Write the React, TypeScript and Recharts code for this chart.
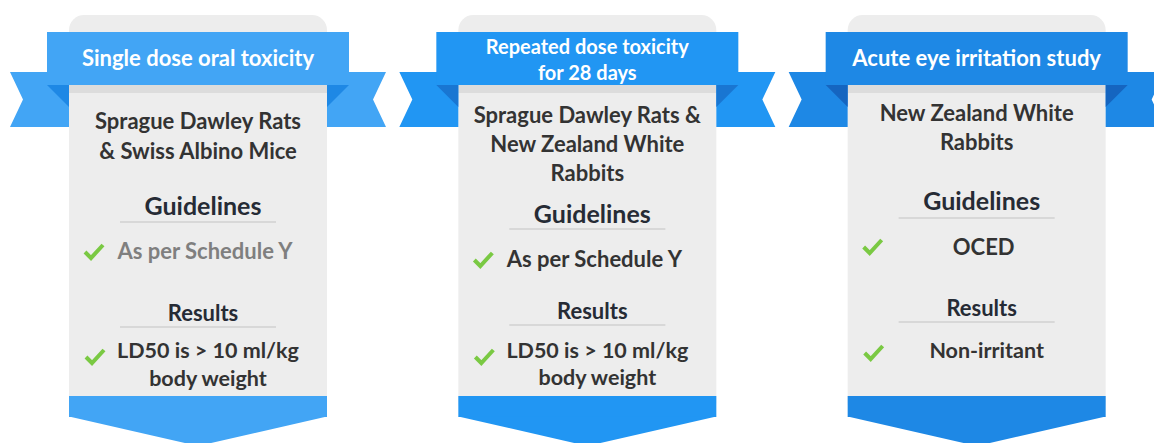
import { BarChart, Bar, XAxis, YAxis } from 'recharts';

// one entry per card
const studies = ['Single dose oral toxicity', 'Repeated dose toxicity for 28 days', 'Acute eye irritation study'];
const titleLines = [
  ['Single dose oral toxicity'],
  ['Repeated dose toxicity', 'for 28 days'],
  ['Acute eye irritation study'],
];
const species = [
  ['Sprague Dawley Rats', '& Swiss Albino Mice'],
  ['Sprague Dawley Rats &', 'New Zealand White', 'Rabbits'],
  ['New Zealand White', 'Rabbits'],
];
const guidelines = ['As per Schedule Y', 'As per Schedule Y', 'OCED'];
const results = [
  ['LD50 is > 10 ml/kg', 'body weight'],
  ['LD50 is > 10 ml/kg', 'body weight'],
  ['Non-irritant'],
];
const cardValue = [1, 1, 1];

const data = studies.map((name, i) => ({
  name,
  value: cardValue[i],
  title: titleLines[i],
  species: species[i],
  guideline: guidelines[i],
  result: results[i],
}));

const ribbonColors = ['#42A5F5', '#2196F3', '#1E88E5'];
const foldColors = ['#1E88E5', '#1976D2', '#1565C0'];
const guidelineColors = ['#7f7f7f', '#333333', '#333333'];
const titleSizes = [22, 20, 22];

// vertical positions inside each card, relative to the card top
const layouts = [
  { title: [42], species: [105, 135], guide: 190, guideLine: 207, item: 235, itemCheck: 237, res: 297, resLine: 312, resItems: [335, 363], resCheck: 342 },
  { title: [31, 57], species: [99, 128, 157], guide: 198, guideLine: 214, item: 243, itemCheck: 245, res: 295, resLine: 310, resItems: [335, 362], resCheck: 342 },
  { title: [42], species: [97, 126], guide: 185, guideLine: 203, item: 231, itemCheck: 232, res: 292, resLine: 307, resItems: [335], resCheck: 338 },
];

const FONT = 'Lato, "Open Sans", sans-serif';

const Check = ({ x, y }: { x: number; y: number }) => (
  <polyline
    points={`${x},${y} ${x + 6},${y + 6} ${x + 18},${y - 7}`}
    fill="none"
    stroke="#7AC943"
    strokeWidth={4}
  />
);

const Card = (props: any) => {
  const { x, y, width, height, payload, index } = props;
  const L = x;
  const R = x + width;
  const cx = x + width / 2;
  const bottom = y + height;
  const lay = layouts[index];
  const ribbon = ribbonColors[index];
  const fold = foldColors[index];
  const tc = cx + 5;
  return (
    <g fontFamily={FONT} fontWeight={700}>
      <rect x={L} y={y} width={width} height={height} rx={15} fill="#EDEDED" />
      <rect x={L} y={y + 70} width={width} height={8} fill="#DCDCDC" />
      {/* ribbon tails */}
      <polygon
        points={`${L - 59},${y + 57} ${L},${y + 57} ${L},${y + 112} ${L - 59},${y + 112} ${L - 46},${y + 84.5}`}
        fill={ribbon}
      />
      <polygon
        points={`${R + 59},${y + 57} ${R},${y + 57} ${R},${y + 112} ${R + 59},${y + 112} ${R + 46},${y + 84.5}`}
        fill={ribbon}
      />
      <rect x={L - 22} y={y + 17} width={width + 44} height={53} fill={ribbon} />
      <polygon points={`${L - 22},${y + 70} ${L},${y + 70} ${L},${y + 92}`} fill={fold} />
      <polygon points={`${R + 22},${y + 70} ${R},${y + 70} ${R},${y + 92}`} fill={fold} />
      {payload.title.map((t: string, i: number) => (
        <text key={t} x={cx} y={y + lay.title[i]} fill="#fff" fontSize={titleSizes[index]} textAnchor="middle" dominantBaseline="central">
          {t}
        </text>
      ))}
      {payload.species.map((t: string, i: number) => (
        <text key={t} x={cx} y={y + lay.species[i]} fill="#333333" fontSize={22} textAnchor="middle" dominantBaseline="central">
          {t}
        </text>
      ))}
      <text x={tc} y={y + lay.guide} fill="#262B35" fontSize={25} textAnchor="middle" dominantBaseline="central">
        Guidelines
      </text>
      <line x1={cx - 78} x2={cx + 78} y1={y + lay.guideLine} y2={y + lay.guideLine} stroke="#D0D0D0" strokeWidth={1.5} />
      <Check x={L + 16} y={y + lay.itemCheck} />
      <text x={tc + 2} y={y + lay.item} fill={guidelineColors[index]} fontSize={22} textAnchor="middle" dominantBaseline="central">
        {payload.guideline}
      </text>
      <text x={tc} y={y + lay.res} fill="#262B35" fontSize={22} textAnchor="middle" dominantBaseline="central">
        Results
      </text>
      <line x1={cx - 78} x2={cx + 78} y1={y + lay.resLine} y2={y + lay.resLine} stroke="#D0D0D0" strokeWidth={1.5} />
      <Check x={L + 17} y={y + lay.resCheck} />
      {payload.result.map((t: string, i: number) => (
        <text key={t} x={tc + 5} y={y + lay.resItems[i]} fill="#333333" fontSize={21.5} textAnchor="middle" dominantBaseline="central">
          {t}
        </text>
      ))}
      {/* bottom arrow */}
      <rect x={L} y={bottom - 21} width={width} height={21} fill={ribbon} />
      <polygon points={`${L},${bottom - 0.5} ${R},${bottom - 0.5} ${cx},${bottom + 29}`} fill={ribbon} />
    </g>
  );
};

export default function App() {
  return (
    <div style={{ position: 'absolute', left: 0, top: 0, width: 1154, height: 443, overflow: 'hidden', background: '#fff' }}>
      <BarChart width={1154} height={443} data={data} margin={{ top: 15, right: -17, bottom: 26, left: 3 }}>
        <XAxis dataKey="name" hide />
        <YAxis hide domain={[0, 1]} />
        <Bar dataKey="value" barSize={258} isAnimationActive={false} shape={(p: any) => <Card {...p} />} />
      </BarChart>
    </div>
  );
}
